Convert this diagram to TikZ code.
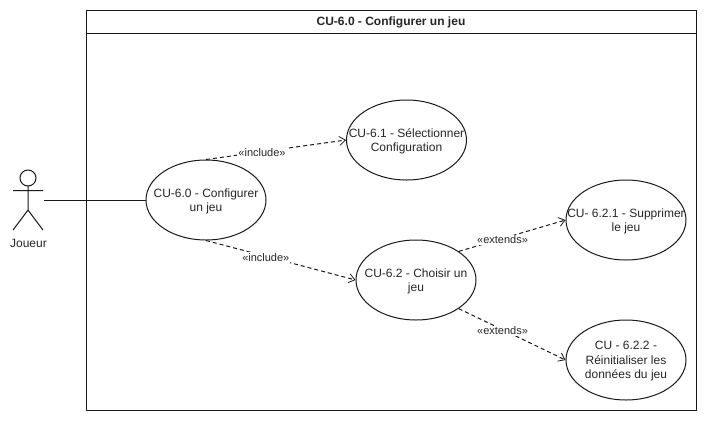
\documentclass[tikz,border=0pt]{standalone}
\usepackage{fontspec}
\setmainfont{Liberation Sans}
\usetikzlibrary{arrows.meta,shapes.geometric}
\tikzset{
  x=1pt,y=-1pt,
  line/.style={draw=black!90,line width=1pt},
  usecase/.style={line,ellipse,minimum width=120pt,minimum height=80pt,inner sep=0pt,fill=white},
  uctext/.style={font=\fontsize{12}{14.5}\selectfont,align=center,text=black!85,inner sep=0pt,yshift=-1.2pt},
  dep/.style={line,dashed,dash pattern=on 4pt off 3pt,-{Straight Barb[length=6pt,width=9pt,line width=0.8pt]}},
  deplabel/.style={font=\fontsize{11}{13}\selectfont,fill=white,text=black!85,inner sep=1pt,yshift=-1.2pt},
}
\begin{document}
\begin{tikzpicture}
\useasboundingbox (0,0) rectangle (707,421);
\fill[white] (0,0) rectangle (707,421);
% frame
\draw[line] (86,10.5) rectangle (696,410.5);
\draw[line] (86,33.5) -- (696,33.5);
\node[font=\bfseries\fontsize{12}{14}\selectfont,text=black!85,inner sep=0pt] (title) at (391,22) {CU-6.0 - Configurer un jeu};
% use cases
\node[usecase] (uc0) at (206,200) {};
\node[uctext] (t0) at (206,200) {CU-6.0 - Configurer\\un jeu};
\node[usecase] (uc1) at (406.5,140) {};
\node[uctext] (t1) at (406.5,140) {CU-6.1 - Sélectionner\\Configuration};
\node[usecase] (uc2) at (416,280) {};
\node[uctext] (t2) at (416,280) {CU-6.2 - Choisir un\\jeu};
\node[usecase] (uc21) at (626,220) {};
\node[uctext] (t21) at (626,220) {CU- 6.2.1 - Supprimer\\le jeu};
\node[usecase] (uc22) at (626,360) {};
\node[uctext] (t22) at (626,360) {CU - 6.2.2 -\\Réinitialiser les\\données du jeu};
% actor
\coordinate (hand) at (43.5,200);
\draw[line] (28,178) circle (8);
\draw[line] (28,186) -- (28,210) (13,190.5) -- (43,190.5) (13,230) -- (28,210) -- (43,230);
\node[uctext] (actor) at (28.5,242) {Joueur};
% connectors
\draw[line] (hand) -- (uc0.west);
\draw[dep] (uc0.north) -- node[deplabel,pos=0.4] {«include»} (uc1.west);
\draw[dep] (uc0.south) -- node[deplabel,pos=0.4] {«include»} (uc2.west);
\draw[dep] (uc2.north east) -- node[deplabel,pos=0.41] {«extends»} (uc21.west);
\draw[dep] (uc2.south east) -- node[deplabel,pos=0.41] {«extends»} (uc22.west);
\end{tikzpicture}
\end{document}
